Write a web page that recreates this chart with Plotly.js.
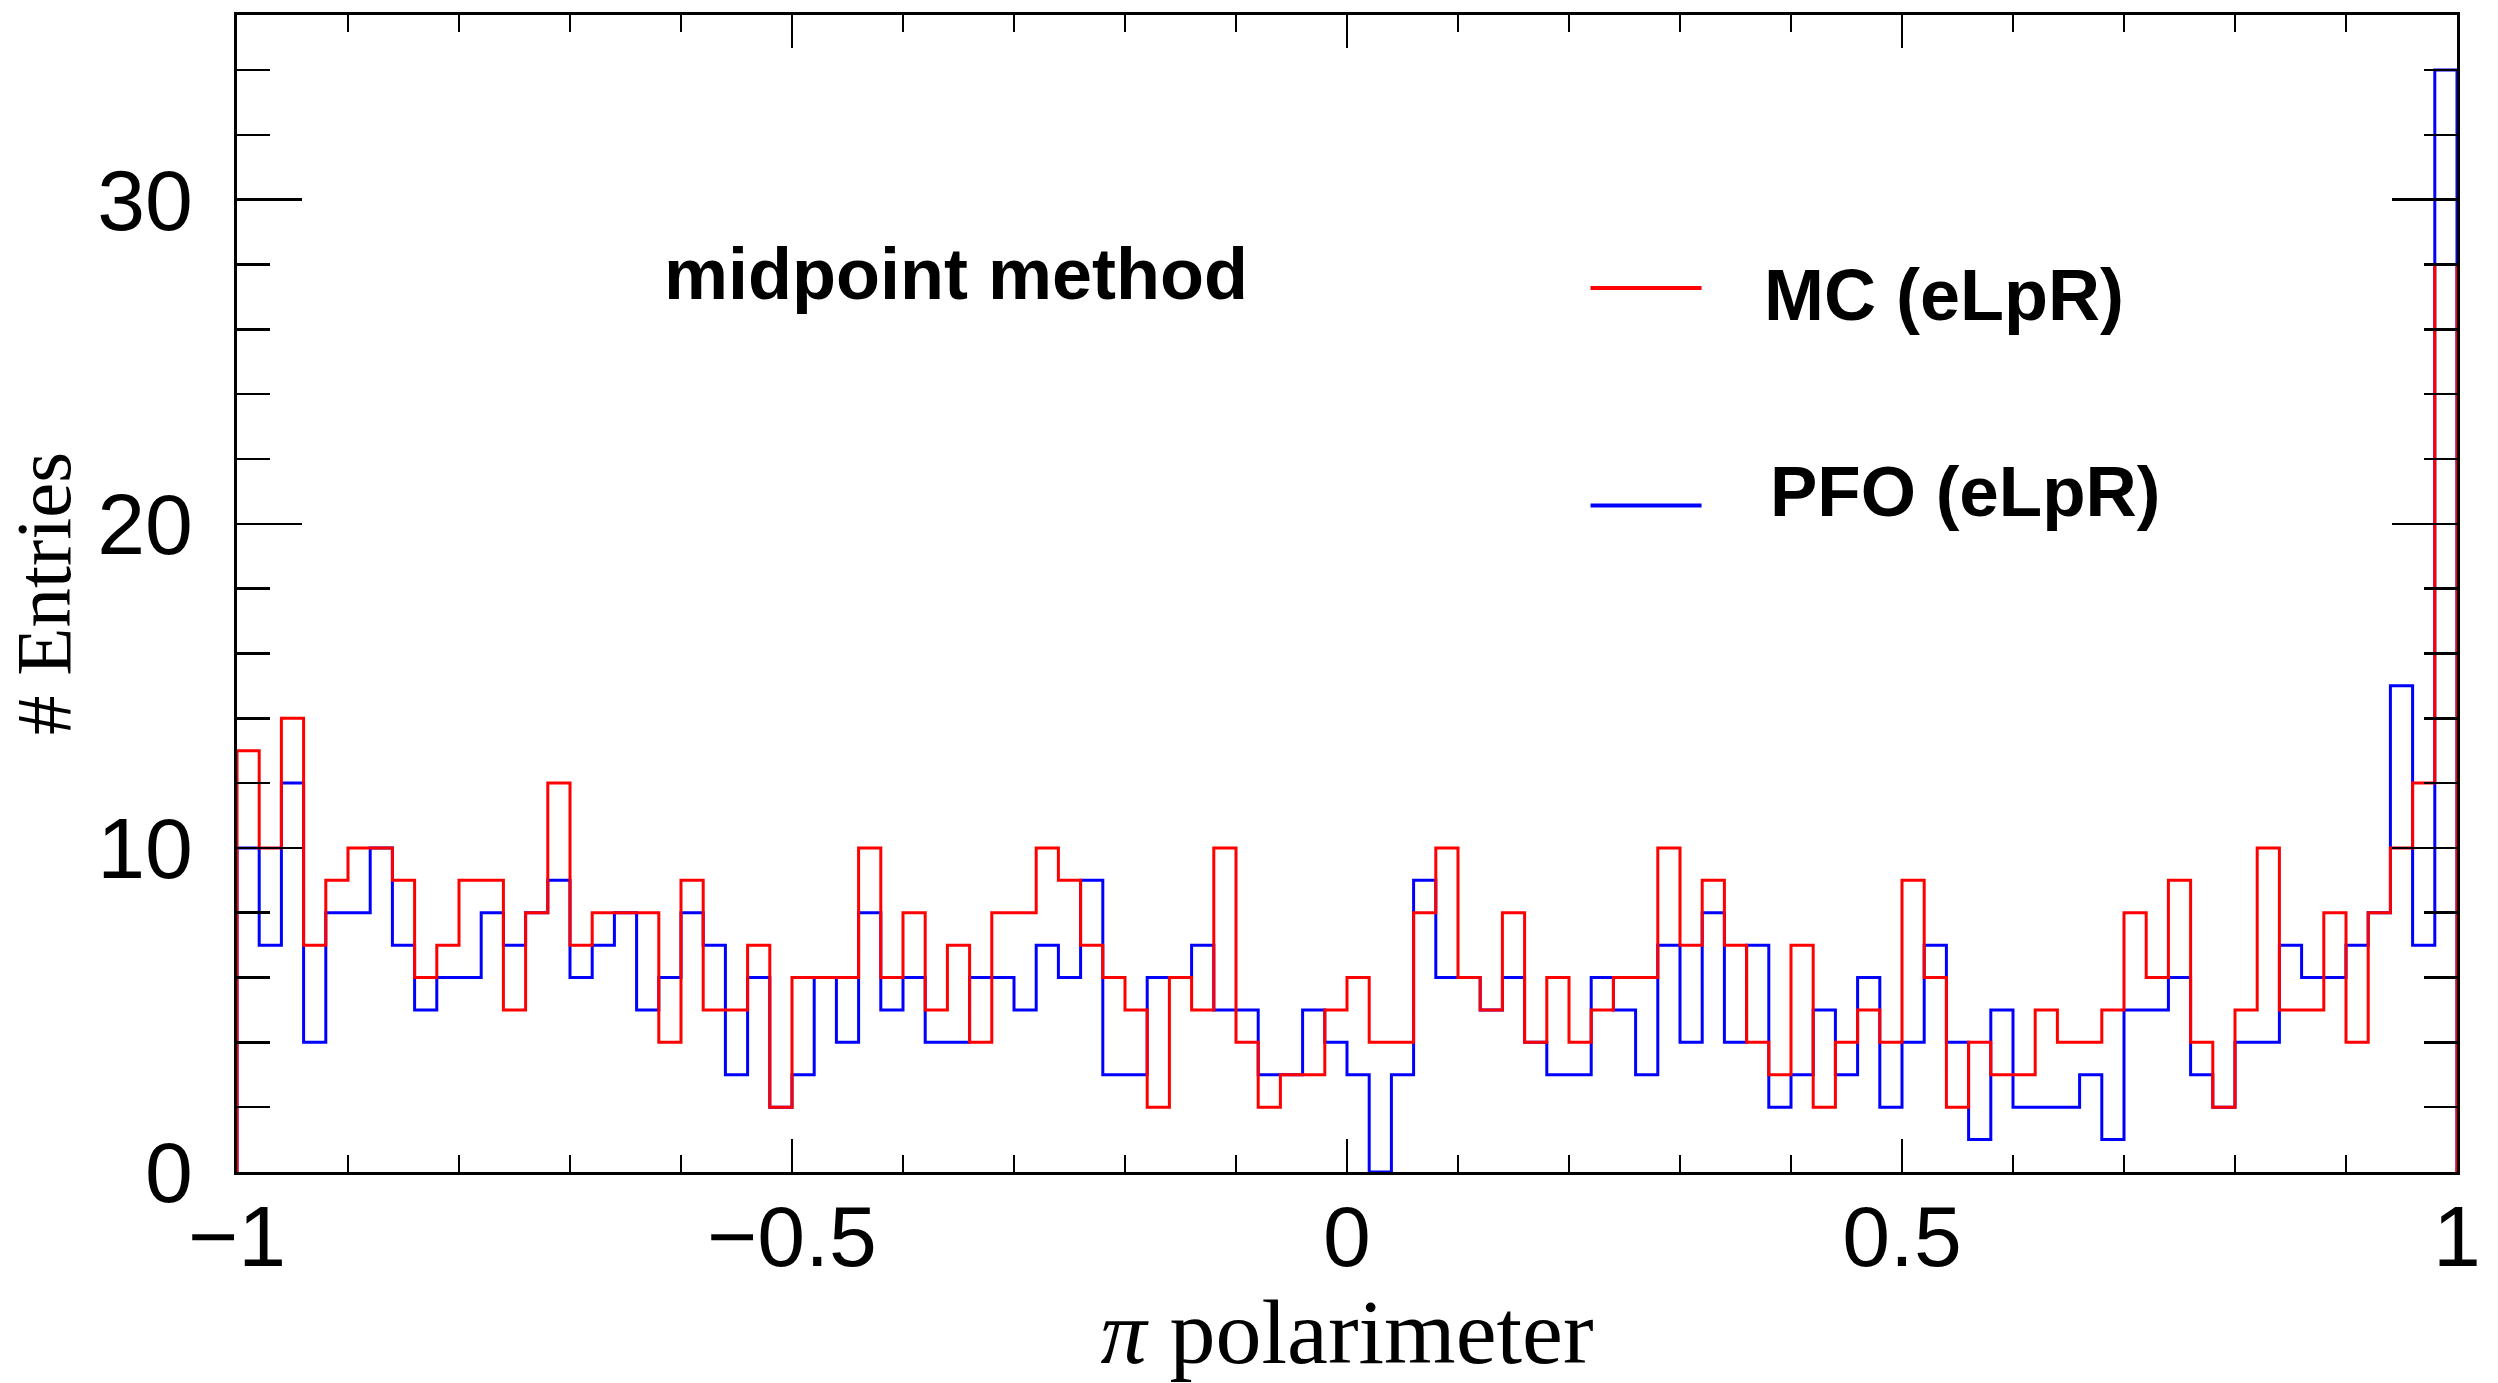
<!DOCTYPE html>
<html>
<head>
<meta charset="utf-8">
<script src="https://cdn.plot.ly/plotly-3.0.1.min.js"></script>
<style>
html,body{margin:0;padding:0;background:#fff;}
#chart{width:2498px;height:1383px;}
</style>
</head>
<body>
<div id="chart"></div>
<script>
// Histogram binning
const xLow = -1;
const xHigh = 1;
const nBins = 100;

// Bin contents (100 bins, -1 .. 1)
const mcCounts = [
  13,10,14,7,9,10,10,9,6,7,
  9,9,5,8,12,7,8,8,8,4,
  9,5,5,7,2,6,6,6,10,6,
  8,5,7,4,8,8,10,9,7,6,
  5,2,6,5,10,4,2,3,3,5,
  6,4,4,8,10,6,5,8,4,6,
  4,5,6,6,10,7,9,7,4,3,
  7,2,4,5,4,9,6,2,4,3,
  3,5,4,4,5,8,6,9,4,2,
  5,10,5,5,8,4,8,10,12,28
];
const pfoCounts = [
  10,7,12,4,8,8,10,7,5,6,
  6,8,7,8,9,6,7,8,5,6,
  8,7,3,6,2,3,6,4,8,5,
  6,4,4,6,6,5,7,6,9,3,
  3,6,6,7,5,5,3,3,5,4,
  3,0,3,9,6,6,5,6,4,3,
  3,6,5,3,7,4,8,4,7,2,
  3,5,3,6,2,4,7,4,1,5,
  2,2,2,3,1,5,5,6,3,2,
  4,4,7,6,6,7,8,15,7,34
];

const seriesNames = ["MC (eLpR)", "PFO (eLpR)"];
const seriesColors = ["#ff0000", "#0000ff"];
const xTickVals = [-1, -0.5, 0, 0.5, 1];
const yTickVals = [0, 10, 20, 30];

// Build a ROOT-style step outline from bin contents
function stepOutline(counts) {
  const bw = (xHigh - xLow) / counts.length;
  const xs = [xLow];
  const ys = [0];
  for (let i = 0; i < counts.length; i++) {
    xs.push(xLow + i * bw);
    ys.push(counts[i]);
  }
  xs.push(xHigh); ys.push(counts[counts.length - 1]);
  xs.push(xHigh); ys.push(0);
  return {x: xs, y: ys};
}

const pfo = stepOutline(pfoCounts);
const mc = stepOutline(mcCounts);

const traces = [
  {x: pfo.x, y: pfo.y, type: 'scatter', mode: 'lines', name: seriesNames[1],
   line: {color: seriesColors[1], width: 3, shape: 'hv'}, showlegend: false, hoverinfo: 'skip'},
  {x: mc.x, y: mc.y, type: 'scatter', mode: 'lines', name: seriesNames[0],
   line: {color: seriesColors[0], width: 3, shape: 'hv'}, showlegend: false, hoverinfo: 'skip'}
];

const sans = "Liberation Sans, Arial, Helvetica, sans-serif";
const serif = "Liberation Serif, Times New Roman, serif";

const layout = {
  width: 2498, height: 1383,
  paper_bgcolor: '#ffffff', plot_bgcolor: '#ffffff',
  margin: {l: 237, r: 41, t: 15, b: 211, pad: 0},
  showlegend: false,
  xaxis: {
    range: [xLow, xHigh], autorange: false,
    tickvals: xTickVals,
    ticks: 'inside', ticklen: 33, tickwidth: 2.5, tickcolor: '#000',
    showline: true, linecolor: '#000', linewidth: 3, mirror: 'ticks',
    showgrid: false, zeroline: false,
    tickfont: {family: sans, size: 86, color: '#000'},
    ticklabelstandoff: -12,
    minor: {dtick: 0.1, tick0: -1, ticks: 'inside', ticklen: 17, tickwidth: 2.5, tickcolor: '#000', showgrid: false},
    title: {text: '<i>π</i> polarimeter', font: {family: serif, size: 92, color: '#000'}, standoff: 30}
  },
  yaxis: {
    range: [0, 35.7], autorange: false,
    tickvals: yTickVals,
    ticks: 'inside', ticklen: 65, tickwidth: 2.5, tickcolor: '#000',
    showline: true, linecolor: '#000', linewidth: 3, mirror: 'ticks',
    showgrid: false, zeroline: false,
    tickfont: {family: sans, size: 86, color: '#000'},
    ticklabelstandoff: 24,
    minor: {dtick: 2, tick0: 0, ticks: 'inside', ticklen: 33, tickwidth: 2.5, tickcolor: '#000', showgrid: false},
    title: {text: '# Entries', font: {family: serif, size: 79, color: '#000'}, standoff: 12}
  },
  shapes: [
    {type: 'line', xref: 'paper', yref: 'paper', x0: 0.6097, x1: 0.6597, y0: 0.764, y1: 0.764,
     line: {color: seriesColors[0], width: 4}},
    {type: 'line', xref: 'paper', yref: 'paper', x0: 0.6097, x1: 0.6597, y0: 0.576, y1: 0.576,
     line: {color: seriesColors[1], width: 4}}
  ],
  annotations: [
    {text: '<b>midpoint method</b>', xref: 'paper', yref: 'paper', x: 0.324, y: 0.776,
     xanchor: 'center', yanchor: 'middle', showarrow: false,
     font: {family: sans, size: 72, color: '#000'}},
    {text: '<b>' + seriesNames[0] + '</b>', xref: 'paper', yref: 'paper', x: 0.687, y: 0.758,
     xanchor: 'left', yanchor: 'middle', showarrow: false,
     font: {family: sans, size: 72, color: '#000'}},
    {text: '<b>' + seriesNames[1] + '</b>', xref: 'paper', yref: 'paper', x: 0.6895, y: 0.588,
     xanchor: 'left', yanchor: 'middle', showarrow: false,
     font: {family: sans, size: 71, color: '#000'}}
  ]
};

Plotly.newPlot('chart', traces, layout, {staticPlot: true, displayModeBar: false});
</script>
</body>
</html>
